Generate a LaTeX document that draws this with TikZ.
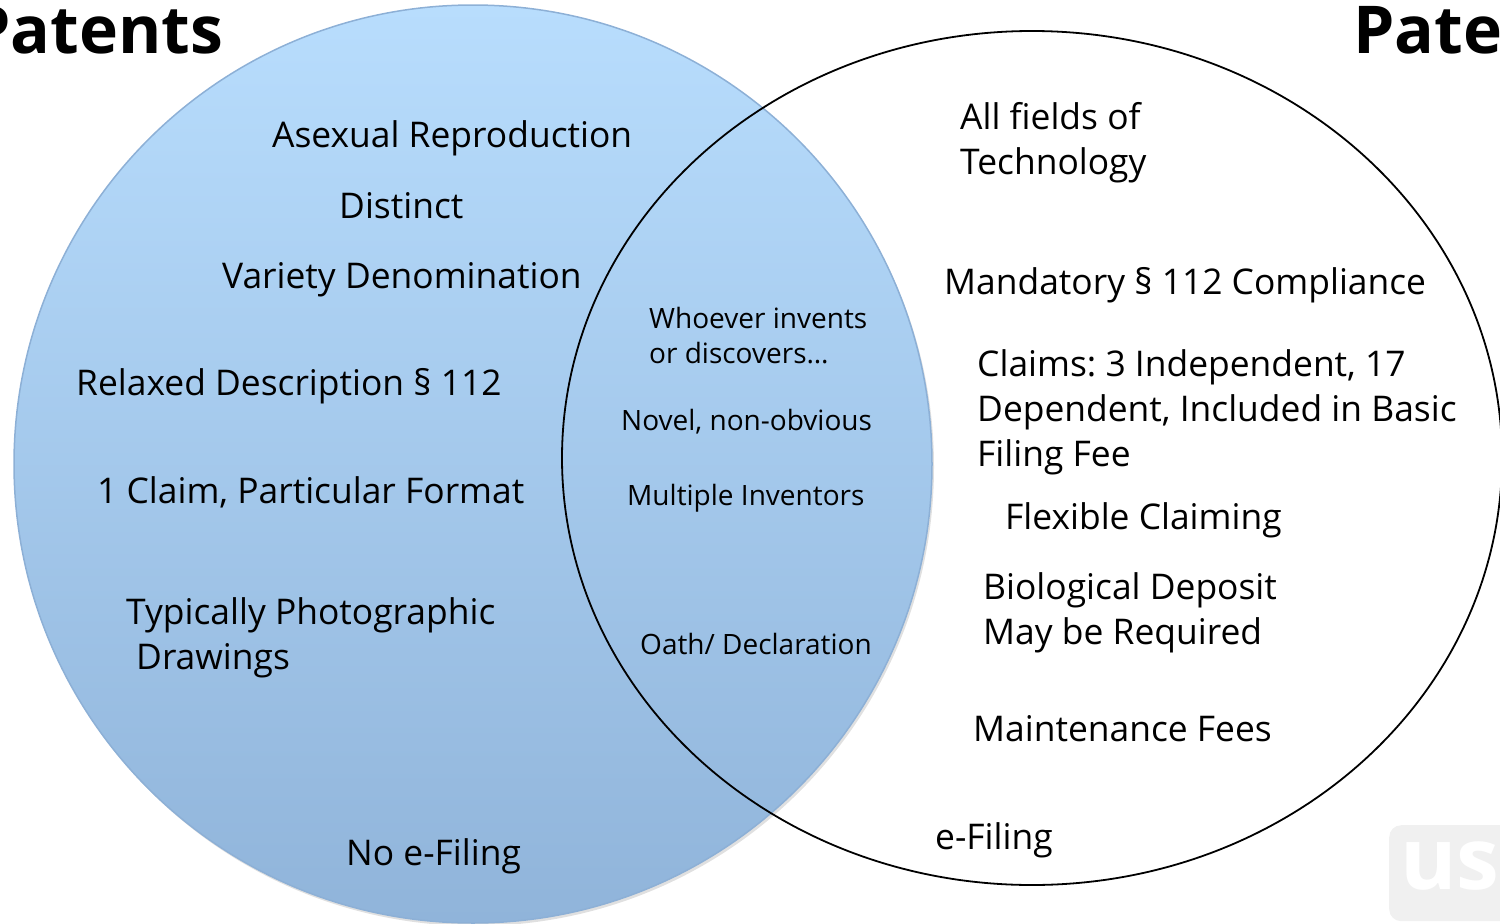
\documentclass[tikz,border=0pt]{standalone}
\usepackage{fontspec}
\setmainfont{Open Sans}
\usetikzlibrary{shapes.geometric}
\frenchspacing
\definecolor{ptop}{RGB}{184,221,253}
\definecolor{pbot}{RGB}{144,180,218}
\definecolor{pedge}{RGB}{141,176,214}
\definecolor{wm}{RGB}{240,240,240}
\tikzset{
  big/.style={anchor=west,inner sep=0pt,font=\fontsize{35.4}{45}\selectfont,align=left},
  mid/.style={anchor=west,inner sep=0pt,font=\fontsize{28}{35}\selectfont,align=left},
  ttl/.style={anchor=base west,inner sep=0pt,font=\fontsize{66}{70}\selectfont\bfseries},
}
\begin{document}
\begin{tikzpicture}[x=1pt,y=-1pt]
\useasboundingbox (0,0) rectangle (1500,924);
\clip (0,0) rectangle (1500,924);
% shadow
\fill[black,opacity=0.12] (475,467) circle (459);
\node (L) [circle,inner sep=0pt,minimum size=918pt,top color=ptop,bottom color=pbot,draw=pedge,line width=1.5pt] at (473,464) {};
\node (R) [ellipse,inner sep=0pt,minimum width=940pt,minimum height=854pt,draw=black,line width=1.8pt] at (1032,458) {};
% titles
\node (t1) [ttl] at (-31,53) {Patents};
\node (t2) [ttl] at (1353,53) {Patents};
% watermark
\node (wmbox) [fill=wm,rounded corners=12pt,minimum width=140pt,minimum height=96pt,inner sep=0pt,anchor=north west] at (1389,825) {};
\node (wmtext) [anchor=west,inner sep=0pt,text=white,font=\fontsize{86}{90}\selectfont\bfseries] at (1400,866) {us};
% left
\node (a1) [big] at (272,138) {Asexual Reproduction};
\node (a2) [big] at (339,206) {Distinct};
\node (a3) [big] at (222,280) {Variety Denomination};
\node (a4) [big] at (76,386) {Relaxed Description § 112};
\node (a5) [big] at (97,492) {1 Claim, Particular Format};
\node (a6) [big] at (126,638) {Typically Photographic\\\hspace*{10pt}Drawings};
\node (a7) [big] at (346,856) {No e-Filing};
% center
\node (c1) [mid] at (649,336) {Whoever invents\\or discovers…};
\node (c2) [mid] at (621,422) {Novel, non-obvious};
\node (c3) [mid] at (627,498) {Multiple Inventors};
\node (c4) [mid] at (640,644) {Oath/ Declaration};
% right
\node (b1) [big] at (960,143) {All fields of\\Technology};
\node (b2) [big] at (944,285) {Mandatory § 112 Compliance};
\node (b3) [big] at (977,412) {Claims: 3 Independent, 17\\Dependent, Included in Basic\\Filing Fee};
\node (b4) [big] at (1005,520) {Flexible Claiming};
\node (b5) [big] at (983,613) {Biological Deposit\\May be Required};
\node (b6) [big] at (973,729) {Maintenance Fees};
\node (b7) [big] at (935,840) {e-Filing};
\end{tikzpicture}
\end{document}
